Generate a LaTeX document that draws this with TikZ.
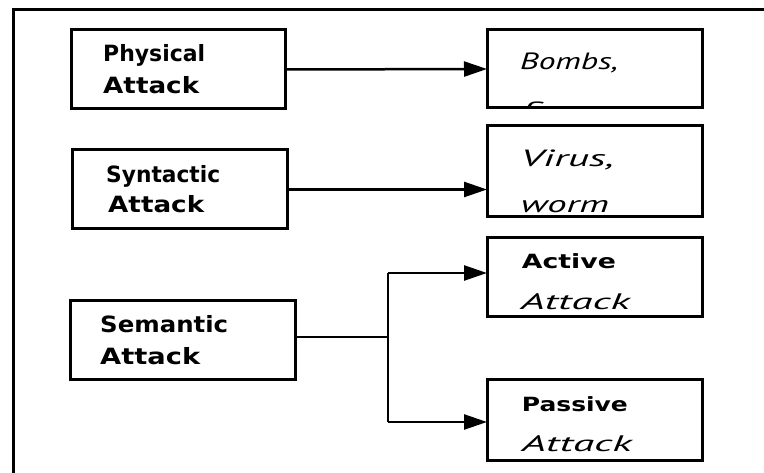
\documentclass[tikz,border=0pt]{standalone}
\usepackage{fontspec}
\usepackage{graphicx}
\usetikzlibrary{arrows.meta}
\newfontfamily\bsans{DejaVu Sans}
\newfontfamily\itf{PT Sans}
\newcommand\wtxt[2]{\resizebox{#1}{\height}{#2}}
\tikzset{
  box/.style={draw=black, line width=3pt, rectangle, inner sep=0pt, outer sep=0pt},
  lbl/.style={anchor=base west, inner sep=0pt, font=\bsans\bfseries\fontsize{22.4pt}{22.4pt}\selectfont},
  rbl/.style={anchor=base west, inner sep=0pt, font=\bsans\bfseries\fontsize{19.6pt}{19.6pt}\selectfont},
  itl/.style={anchor=base west, inner sep=0pt, font=\itf\itshape\fontsize{23.5pt}{23.5pt}\selectfont},
  arr/.style={line width=2.5pt, -{Triangle[length=23pt,width=15pt]}},
  ln/.style={line width=2.5pt},
}
\begin{document}
\begin{tikzpicture}[x=1pt,y=-1pt]
\useasboundingbox (0,0) rectangle (764,473);
\clip (0,0) rectangle (764,473);
\fill[white] (0,0) rectangle (764,473);
% outer frame (cut off at right and bottom)
\draw[line width=3pt] (13,490) -- (13,10) -- (780,10);

% left boxes
\node[box, minimum width=214pt, minimum height=79pt] (phys) at (178,69.5) {};
\node[box, minimum width=215pt, minimum height=79pt] (syn) at (179.5,189.5) {};
\node[box, minimum width=225pt, minimum height=79pt] (sem) at (182.5,340.5) {};
% right boxes
\node[box, minimum width=215pt, minimum height=78pt] (bombs) at (594.5,69) {};
\node[box, minimum width=215pt, minimum height=91pt] (virus) at (594.5,171.5) {};
\node[box, minimum width=215pt, minimum height=79pt] (active) at (594.5,277.5) {};
\node[box, minimum width=215pt, minimum height=80pt] (passive) at (594.5,420) {};

% labels left
\node[lbl] (t1a) at (103,61.7) {\wtxt{102pt}{Physical}};
\node[lbl] (t1b) at (103,93.3) {\wtxt{96pt}{Attack}};
\node[lbl] (t2a) at (106,182.7) {\wtxt{114pt}{Syntactic}};
\node[lbl] (t2b) at (108,212.3) {\wtxt{96pt}{Attack}};
\node[lbl] (t3a) at (100,332.7) {\wtxt{128pt}{Semantic}};
\node[lbl] (t3b) at (100,365) {\wtxt{100pt}{Attack}};

% labels right
\node[rbl] (t6a) at (521.7,269) {\wtxt{94pt}{Active}};
\node[itl, font=\itf\itshape\fontsize{22.4pt}{22.4pt}\selectfont] (t6b) at (520.7,310) {\wtxt{109pt}{Attack}};
\node[rbl] (t7a) at (521.7,411.7) {\wtxt{106pt}{Passive}};
\node[itl, font=\itf\itshape\fontsize{22.4pt}{22.4pt}\selectfont] (t7b) at (521.7,451.7) {\wtxt{110pt}{Attack}};
\begin{scope}
\clip (virus.south west) rectangle (virus.north east);
\node[itl] (t5a) at (520.7,166.7) {\wtxt{93pt}{Virus,}};
\node[itl] (t5b) at (520.7,213) {\wtxt{88pt}{worm}};
\end{scope}
\begin{scope}
\clip (bombs.south west) rectangle (bombs.north east);
\node[itl] (t4a) at (520,70) {\wtxt{98pt}{Bombs,}};
\node[itl] (t4b) at (521,119) {\wtxt{22pt}{fi}};
\end{scope}

% connectors
\draw[arr] (phys.east) -- (bombs.west);
\draw[arr] (syn.east) -- (syn.east -| virus.west);
\coordinate (j) at (388,337);
\coordinate (ja) at (388,273);
\coordinate (jp) at (388,422);
\draw[ln] (sem.east |- j) -- (j);
\draw[ln] (ja) -- (jp);
\draw[arr] (ja) -- (ja -| active.west);
\draw[arr] (jp) -- (jp -| passive.west);
\end{tikzpicture}
\end{document}
